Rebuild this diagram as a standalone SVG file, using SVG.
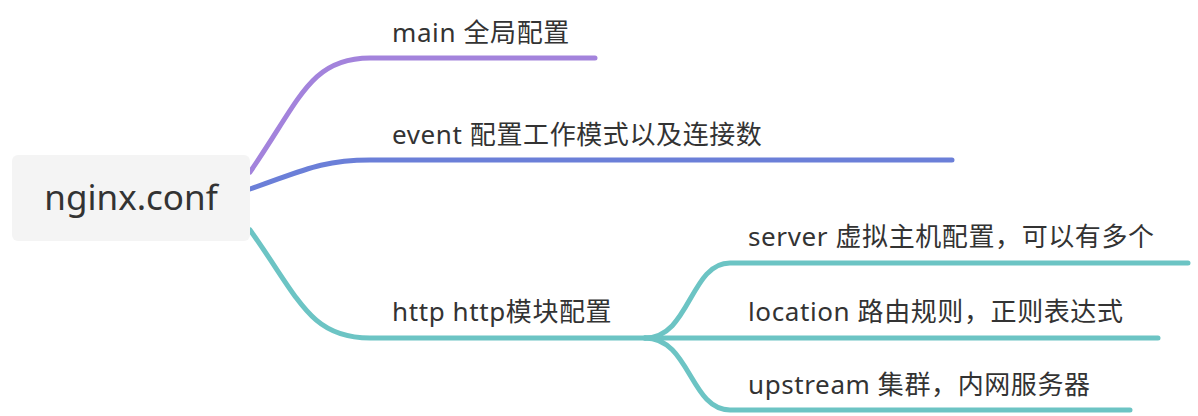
<svg xmlns="http://www.w3.org/2000/svg" width="1198" height="416" viewBox="0 0 1198 416">
<style>
text{font-family:"Noto Sans","Noto Sans CJK SC",sans-serif;fill:#333;font-size:26px;letter-spacing:0.6px}
.c{fill:none;stroke-width:5;stroke-linecap:round}
</style>
<rect width="1198" height="416" fill="#fff"/>
<g id="connectors">
<path class="c" stroke="#a383dc" d="M250,172 C300,100 310,58 370,58 L595,58"/>
<path class="c" stroke="#6b7fd8" d="M250,189 C300,172 320,160 370,160 L952,160"/>
<path class="c" stroke="#6cc4c4" d="M250,230 C300,300 310,338 370,338 L645,338"/>
<path class="c" stroke="#6cc4c4" d="M645,338 C690,338 690,263 730,263 L1188,263"/>
<path class="c" stroke="#6cc4c4" d="M645,338 L1158,338"/>
<path class="c" stroke="#6cc4c4" d="M645,338 C690,338 690,410 730,410 L1130,410"/>
</g>
<g id="root"><rect x="12" y="155" width="238" height="86" rx="6" fill="#f4f4f4"/><text x="131" y="210" text-anchor="middle" style="font-size:35px;letter-spacing:0">nginx.conf</text></g>
<g id="main"><text x="392" y="42">main 全局配置</text></g>
<g id="event"><text x="392" y="144">event 配置工作模式以及连接数</text></g>
<g id="http"><text x="392" y="321">http http模块配置</text></g>
<g id="server"><text x="748" y="246">server 虚拟主机配置，可以有多个</text></g>
<g id="location"><text x="748" y="321">location 路由规则，正则表达式</text></g>
<g id="upstream"><text x="748" y="394">upstream 集群，内网服务器</text></g>
</svg>
